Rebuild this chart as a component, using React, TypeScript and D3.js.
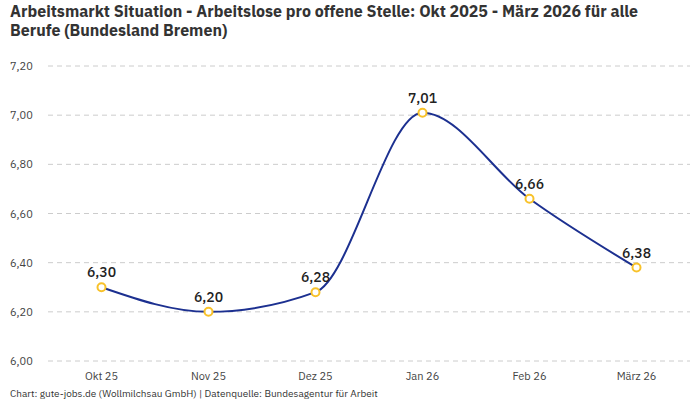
import React, { useEffect, useRef } from 'react';
import * as d3 from 'd3';

const months = ['Okt 25', 'Nov 25', 'Dez 25', 'Jan 26', 'Feb 26', 'März 26'];
const values = [6.30, 6.20, 6.28, 7.01, 6.66, 6.38];
const yTicks = [6.0, 6.2, 6.4, 6.6, 6.8, 7.0, 7.2];

const fmt = (v: number) => v.toFixed(2).replace('.', ',');

const App: React.FC = () => {
  const svgRef = useRef<SVGSVGElement>(null);

  useEffect(() => {
    if (!svgRef.current) return;
    const svg = d3.select(svgRef.current);
    svg.selectAll('*').remove();

    const width = 700;
    const height = 400;
    const font = '"IBM Plex Sans", "Noto Sans", sans-serif';

    // Title
    const title = svg.append('text')
      .attr('x', 10)
      .style('font-family', font)
      .style('font-size', '16px')
      .style('font-weight', 700)
      .attr('fill', '#333');
    title.append('tspan').attr('x', 10).attr('y', 17)
      .text('Arbeitsmarkt Situation - Arbeitslose pro offene Stelle: Okt 2025 - März 2026 für alle');
    title.append('tspan').attr('x', 10).attr('y', 36)
      .text('Berufe (Bundesland Bremen)');

    // Scales
    const x = d3.scalePoint<string>()
      .domain(months)
      .range([48, 690])
      .padding(0.5);

    const y = d3.scaleLinear()
      .domain([6.0, 7.2])
      .range([361, 66]);

    // Grid
    svg.append('g')
      .selectAll('line')
      .data(yTicks)
      .enter()
      .append('line')
      .attr('x1', 48)
      .attr('x2', 690)
      .attr('y1', d => y(d))
      .attr('y2', d => y(d))
      .attr('stroke', '#cccccc')
      .attr('stroke-width', 1)
      .attr('stroke-dasharray', '5,4');

    // Y labels
    svg.append('g')
      .selectAll('text')
      .data(yTicks)
      .enter()
      .append('text')
      .attr('x', 10)
      .attr('y', d => y(d) + 4)
      .style('font-family', font)
      .style('font-size', '11px')
      .attr('fill', '#444')
      .text(d => fmt(d));

    // X labels
    svg.append('g')
      .selectAll('text')
      .data(months)
      .enter()
      .append('text')
      .attr('x', d => x(d) as number)
      .attr('y', 380)
      .attr('text-anchor', 'middle')
      .style('font-family', font)
      .style('font-size', '11px')
      .attr('fill', '#444')
      .text(d => d);

    // Line
    const pts = months.map((m, i) => ({ m, v: values[i] }));
    const line = d3.line<{ m: string; v: number }>()
      .x(d => x(d.m) as number)
      .y(d => y(d.v))
      .curve(d3.curveMonotoneX);

    svg.append('path')
      .datum(pts)
      .attr('fill', 'none')
      .attr('stroke', '#1c3090')
      .attr('stroke-width', 2)
      .attr('d', line);

    // Points
    svg.append('g')
      .selectAll('circle')
      .data(pts)
      .enter()
      .append('circle')
      .attr('cx', d => x(d.m) as number)
      .attr('cy', d => y(d.v))
      .attr('r', 4)
      .attr('fill', '#fff')
      .attr('stroke', '#f8c22a')
      .attr('stroke-width', 2);

    // Value labels
    svg.append('g')
      .selectAll('text')
      .data(pts)
      .enter()
      .append('text')
      .attr('x', d => x(d.m) as number)
      .attr('y', d => y(d.v) - 10)
      .attr('text-anchor', 'middle')
      .style('font-family', font)
      .style('font-size', '14px')
      .style('font-weight', 500)
      .attr('fill', '#222')
      .text(d => fmt(d.v));

    // Footer
    svg.append('text')
      .attr('x', 10)
      .attr('y', 397)
      .style('font-family', font)
      .style('font-size', '10px')
      .attr('fill', '#333')
      .text('Chart: gute-jobs.de (Wollmilchsau GmbH) | Datenquelle: Bundesagentur für Arbeit');

    svg.attr('width', width).attr('height', height);
  }, []);

  return (
    <svg
      ref={svgRef}
      width={700}
      height={400}
      style={{ position: 'absolute', left: 0, top: 0, background: '#fff' }}
    />
  );
};

export default App;
